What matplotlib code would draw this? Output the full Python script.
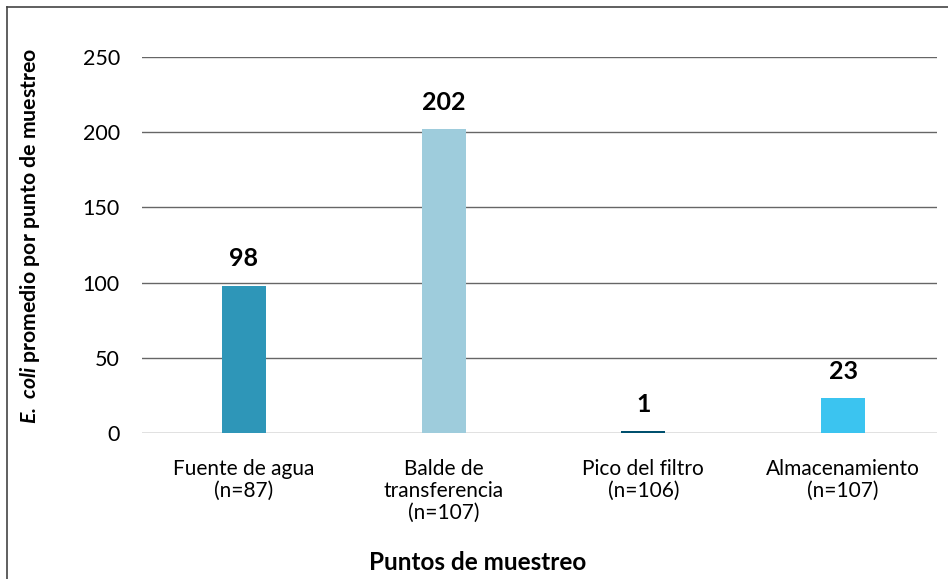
import matplotlib
matplotlib.use("Agg")
import matplotlib.pyplot as plt
from matplotlib.lines import Line2D

plt.rcParams["font.family"] = ["Lato", "DejaVu Sans"]
plt.rcParams["mathtext.fontset"] = "custom"
plt.rcParams["mathtext.rm"] = "Lato"
plt.rcParams["mathtext.it"] = "Lato:italic"
plt.rcParams["mathtext.bf"] = "Lato:bold"
plt.rcParams["mathtext.bfit"] = "Lato:bold:italic"

categories = ["Fuente de agua\n(n=87)", "Balde de\ntransferencia\n(n=107)",
              "Pico del filtro\n(n=106)", "Almacenamiento\n(n=107)"]
values = [98, 202, 1, 23]
colors = ["#2E96B8", "#9ECCDC", "#00506E", "#3BC4F0"]
yticks = [0, 50, 100, 150, 200, 250]

fig = plt.figure(figsize=(9.48, 5.79), dpi=100)
ax = fig.add_axes([142 / 948, 1 - 433 / 579, (937 - 142) / 948, (433 - 57) / 579])

x = list(range(len(categories)))
bars = ax.bar(x, values, width=0.22, color=colors, zorder=3)
for xi, v in zip(x, values):
    ax.annotate(str(v), (xi, v), xytext=(0, 11), textcoords="offset points",
                ha="center", va="bottom", fontsize=18, fontweight="bold")

ax.set_xlim(-0.51, 3.47)
ax.set_ylim(0, 250)
ax.set_yticks(yticks)
ax.set_xticks(x)
ax.set_xticklabels(categories, fontsize=15, linespacing=1.1)
ax.tick_params(axis="y", length=0, pad=16, labelsize=15.5)
ax.tick_params(axis="x", length=0, pad=19)
ax.grid(axis="y", color="#666666", linewidth=1.0, zorder=0)
for s in ax.spines.values():
    s.set_visible(False)

fig.text(30 / 948, 1 - 236 / 579,
         r"$\mathbfit{E.\ coli}$ promedio por punto de muestreo",
         rotation=90, ha="center", va="center", fontsize=15.3, fontweight="bold")
fig.text(478 / 948, 1 - 562 / 579, "Puntos de muestreo",
         ha="center", va="center", fontsize=17.5, fontweight="bold")

# partial frame round the chart (top and left edges only)
fig.add_artist(Line2D([7 / 948, 1], [1 - 7 / 579, 1 - 7 / 579],
                      transform=fig.transFigure, color="#444444", linewidth=1.2))
fig.add_artist(Line2D([7 / 948, 7 / 948], [0, 1 - 7 / 579],
                      transform=fig.transFigure, color="#444444", linewidth=1.2))

fig.savefig("out.png", dpi=100)
